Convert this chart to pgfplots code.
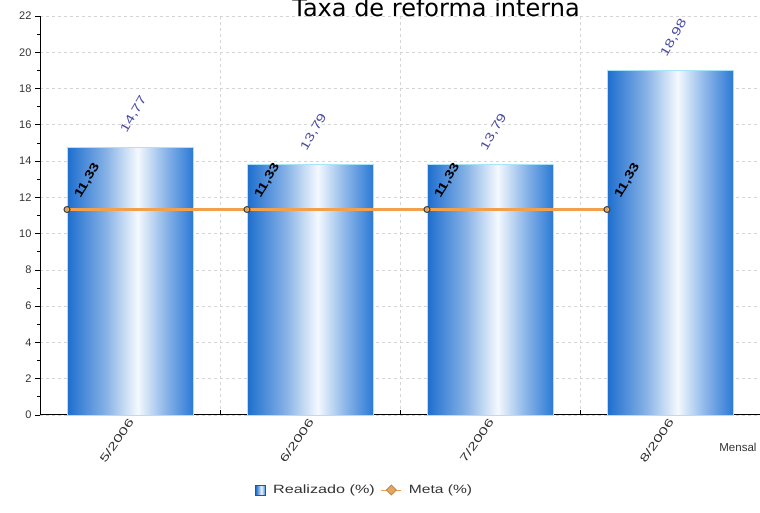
\documentclass[border=0pt]{standalone}
\usepackage{pgfplots}
\pgfplotsset{compat=1.18}
\usepackage{fontspec}
\setmainfont{Liberation Sans}
\newfontfamily\titlefont{DejaVu Sans}
\definecolor{barblue}{HTML}{1D6ECF}
\definecolor{barblueR}{HTML}{2C7AD5}
\definecolor{barwhite}{HTML}{F4F9FE}
\definecolor{baredge}{HTML}{A8E4F8}
\definecolor{vallab}{HTML}{4A4AA8}
\definecolor{metaline}{HTML}{F2A04C}
\definecolor{metafill}{HTML}{DDA866}
\definecolor{gridc}{HTML}{D4D4D4}
\definecolor{ticklab}{HTML}{333333}
\pgfdeclarehorizontalshading{barshade}{100bp}{color(0bp)=(barblue); color(25bp)=(barblue); color(40bp)=(barblue!55!white); color(53bp)=(barwhite); color(64bp)=(barblueR!55!white); color(75bp)=(barblueR); color(100bp)=(barblueR)}
\pgfplotsset{
  barstyle/.style={ybar, bar width=0.7, bar shift=0pt, draw=baredge, line width=0.8pt, shading=barshade,
    nodes near coords={\scalebox{1.35}[1]{\pgfmathprintnumber[fixed,fixed zerofill,precision=2,use comma,assume math mode=true]{\pgfplotspointmeta}}},
    nodes near coords style={xshift=-7pt, yshift=14pt, rotate=60, anchor=west, inner sep=1pt,
      font=\fontsize{12}{14}\selectfont, text=vallab}},
}
\begin{document}
\begin{tikzpicture}
\useasboundingbox (0pt,0pt) rectangle (760pt,513pt);
\begin{axis}[
  at={(40pt,98pt)}, anchor=south west,
  scale only axis, width=720pt, height=399pt,
  xmin=-0.5, xmax=3.5, ymin=0, ymax=22,
  axis x line*=bottom, axis y line*=left,
  axis line style={black, line width=1pt},
  /pgf/number format/assume math mode=true,
  xtick={0,1,2,3},
  xticklabels={\scalebox{1.5}[1]{5/2006},\scalebox{1.5}[1]{6/2006},\scalebox{1.5}[1]{7/2006},\scalebox{1.5}[1]{8/2006}},
  xtick style={draw=none},
  x tick label style={rotate=55, anchor=east, font=\fontsize{11}{13}\selectfont, text=ticklab, xshift=4pt, yshift=-1pt},
  extra x ticks={0.5,1.5,2.5,3.5},
  extra x tick labels={},
  extra x tick style={grid=major, xtick style={draw=black, line width=1pt}, tick align=inside, major tick length=5pt},
  ytick={0,2,...,22},
  minor y tick num=1,
  ymajorgrids,
  tick align=outside,
  major tick length=5pt, minor tick length=3pt,
  ytick style={black, line width=0.8pt},
  y tick label style={font=\fontsize{11}{13}\selectfont, text=ticklab},
  major grid style={gridc, dash pattern=on 3pt off 3pt, line width=0.8pt},
  clip=false,
  legend style={at={(0.451,-0.188)}, anchor=center, draw=none, fill=none,
    legend columns=2, font=\fontsize{12}{14}\selectfont, text=ticklab,
    /tikz/every even column/.append style={column sep=4pt},
    /tikz/every odd column/.append style={column sep=5pt}},
]
\addplot[barstyle,
  legend image code/.code={\draw[draw=barblue!80!black, line width=0.8pt, shading=barshade] (0pt,-5pt) rectangle (10pt,5pt);}
] coordinates {(0,14.77)};
\addlegendentry{\scalebox{1.35}[1]{Realizado (\%)}}
\addplot[barstyle, forget plot] coordinates {(1,13.79)};
\addplot[barstyle, forget plot] coordinates {(2,13.79)};
\addplot[barstyle, forget plot] coordinates {(3,18.98)};
\addplot[color=metaline, line width=2.5pt, mark=*,
  mark options={draw=black!75, fill=metafill, line width=1pt, scale=1.5},
  nodes near coords={\scalebox{1.3}[1]{\pgfmathprintnumber[fixed,fixed zerofill,precision=2,use comma,assume math mode=true]{\pgfplotspointmeta}}},
  nodes near coords style={xshift=10pt, yshift=11pt, rotate=60, anchor=west, inner sep=1pt,
     font=\fontsize{12}{14}\selectfont\bfseries, text=black},
  legend image code/.code={\draw[metaline, line width=1pt] (0pt,0pt) -- (20pt,0pt);
     \draw[fill=metafill, draw=metaline!80!black, line width=0.8pt] (10pt,5pt) -- (15pt,0pt) -- (10pt,-5pt) -- (5pt,0pt) -- cycle;}
] coordinates {(-0.35,11.33) (0.65,11.33) (1.65,11.33) (2.65,11.33)};
\addlegendentry{\scalebox{1.3}[1]{Meta (\%)}}
\node[anchor=east, font=\fontsize{11.5}{13}\selectfont, text=ticklab] at (rel axis cs:1,0) [yshift=-32pt] {Mensal};
\end{axis}
\node[anchor=base, font=\titlefont\fontsize{24}{27}\selectfont] at (436pt,496pt) {Taxa de reforma interna};
\end{tikzpicture}
\end{document}
